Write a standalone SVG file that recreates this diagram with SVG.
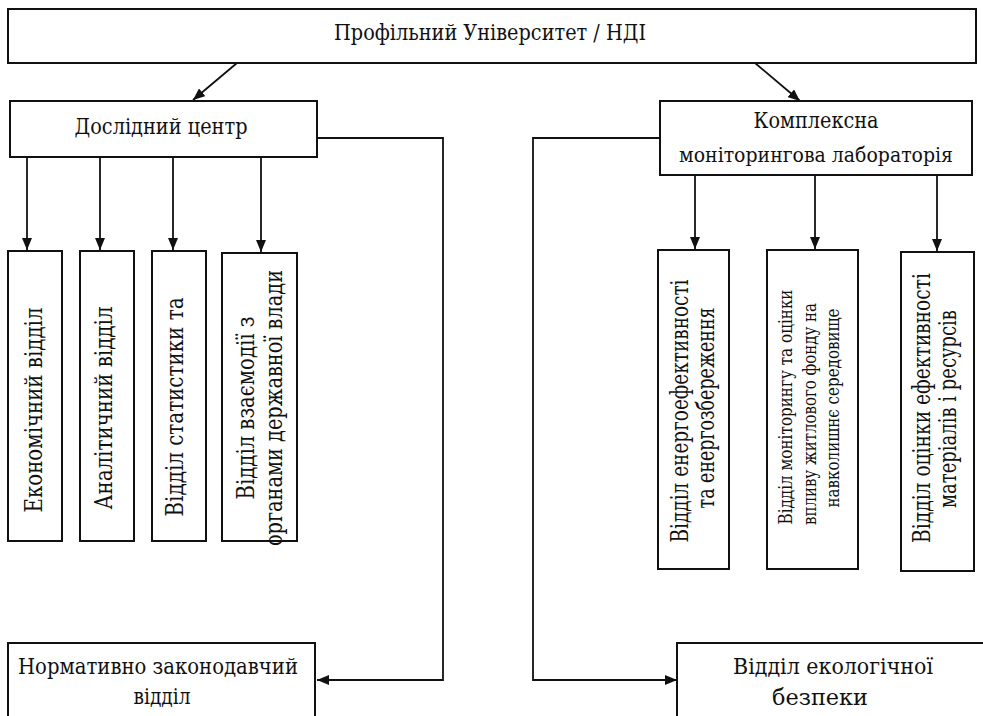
<svg xmlns="http://www.w3.org/2000/svg" width="983" height="716" viewBox="0 0 983 716">
<style>
.box{fill:#fff;stroke:#111;stroke-width:2}
.t{font-family:"DejaVu Serif","Liberation Serif",serif;font-size:23px;fill:#111;text-anchor:middle}
.m{font-size:21px}
.v{font-size:25px}
.r{font-size:24px}
.s{font-size:18px}
.c{fill:none;stroke:#111;stroke-width:1.8}
</style>
<defs>
<marker id="ah" viewBox="0 0 12 10" refX="12" refY="5" markerWidth="12" markerHeight="10" markerUnits="userSpaceOnUse" orient="auto">
<path d="M0,0 L12,5 L0,10 Z" fill="#111"/>
</marker>
</defs>
<rect width="983" height="716" fill="#fff"/>
<g id="connectors">
<line class="c" x1="237" y1="63" x2="193" y2="100" marker-end="url(#ah)"/>
<line class="c" x1="755" y1="63" x2="800" y2="101" marker-end="url(#ah)"/>
<line class="c" x1="27" y1="157" x2="27" y2="250" marker-end="url(#ah)"/>
<line class="c" x1="100" y1="157" x2="100" y2="250" marker-end="url(#ah)"/>
<line class="c" x1="173" y1="157" x2="173" y2="250" marker-end="url(#ah)"/>
<line class="c" x1="261" y1="157" x2="261" y2="252" marker-end="url(#ah)"/>
<line class="c" x1="695" y1="175" x2="695" y2="249" marker-end="url(#ah)"/>
<line class="c" x1="815" y1="175" x2="815" y2="249" marker-end="url(#ah)"/>
<line class="c" x1="937" y1="175" x2="937" y2="251" marker-end="url(#ah)"/>
<polyline class="c" points="317,138 443,138 443,680 317,680" marker-end="url(#ah)"/>
<polyline class="c" points="660,138 533,138 533,680 677,680" marker-end="url(#ah)"/>
</g>
<g id="top">
<rect class="box" x="8" y="9" width="968" height="54"/>
<text class="t" x="490" y="40" textLength="312" lengthAdjust="spacingAndGlyphs">Профільний Університет / НДІ</text>
</g>
<g id="research-center">
<rect class="box" x="10" y="101" width="307" height="56"/>
<text class="t" x="161" y="134" textLength="173" lengthAdjust="spacingAndGlyphs">Дослідний центр</text>
</g>
<g id="lab">
<rect class="box" x="660" y="101" width="312" height="74"/>
<text class="t" x="816" y="128" textLength="125" lengthAdjust="spacingAndGlyphs">Комплексна</text>
<text class="t m" x="816" y="162" textLength="274" lengthAdjust="spacingAndGlyphs">моніторингова лабораторія</text>
</g>
<g id="econ">
<rect class="box" x="8" y="251" width="54" height="290"/>
<text class="t v" transform="translate(42,410) rotate(-90)" textLength="205" lengthAdjust="spacingAndGlyphs">Економічний відділ</text>
</g>
<g id="analytic">
<rect class="box" x="80" y="251" width="54" height="290"/>
<text class="t v" transform="translate(112,408) rotate(-90)" textLength="203" lengthAdjust="spacingAndGlyphs">Аналітичний відділ</text>
</g>
<g id="stat">
<rect class="box" x="152" y="251" width="54" height="290"/>
<text class="t v" transform="translate(183,407) rotate(-90)" textLength="219" lengthAdjust="spacingAndGlyphs">Відділ статистики та</text>
</g>
<g id="gov">
<rect class="box" x="222" y="253" width="75" height="288"/>
<text class="t v" transform="translate(254,408) rotate(-90)" textLength="183" lengthAdjust="spacingAndGlyphs">Відділ взаємодії з</text>
<text class="t v" transform="translate(282,408) rotate(-90)" textLength="276" lengthAdjust="spacingAndGlyphs">органами державної влади</text>
</g>
<g id="energy">
<rect class="box" x="658" y="250" width="71" height="319"/>
<text class="t r" transform="translate(688,411) rotate(-90)" textLength="263" lengthAdjust="spacingAndGlyphs">Відділ енергоефективності</text>
<text class="t r" transform="translate(714,408) rotate(-90)" textLength="201" lengthAdjust="spacingAndGlyphs">та енергозбереження</text>
</g>
<g id="housing">
<rect class="box" x="767" y="250" width="91" height="319"/>
<text class="t s" transform="translate(792,407) rotate(-90)" textLength="235" lengthAdjust="spacingAndGlyphs">Відділ моніторингу та оцінки</text>
<text class="t s" transform="translate(816,414) rotate(-90)" textLength="222" lengthAdjust="spacingAndGlyphs">впливу житлового фонду на</text>
<text class="t s" transform="translate(839,408) rotate(-90)" textLength="199" lengthAdjust="spacingAndGlyphs">навколишнє середовище</text>
</g>
<g id="materials">
<rect class="box" x="901" y="252" width="73" height="319"/>
<text class="t r" transform="translate(930,408) rotate(-90)" textLength="270" lengthAdjust="spacingAndGlyphs">Відділ оцінки ефективності</text>
<text class="t r" transform="translate(956,409) rotate(-90)" textLength="198" lengthAdjust="spacingAndGlyphs">матеріалів і ресурсів</text>
</g>
<g id="legal">
<rect class="box" x="8" y="643" width="307" height="80"/>
<text class="t" x="158" y="674" textLength="280" lengthAdjust="spacingAndGlyphs">Нормативно законодавчий</text>
<text class="t" x="162" y="704" textLength="57" lengthAdjust="spacingAndGlyphs">відділ</text>
</g>
<g id="ecology">
<rect class="box" x="677" y="643" width="320" height="80"/>
<text class="t" x="833" y="674" textLength="200" lengthAdjust="spacingAndGlyphs">Відділ екологічної</text>
<text class="t" x="820" y="705" textLength="96" lengthAdjust="spacingAndGlyphs">безпеки</text>
</g>
</svg>
